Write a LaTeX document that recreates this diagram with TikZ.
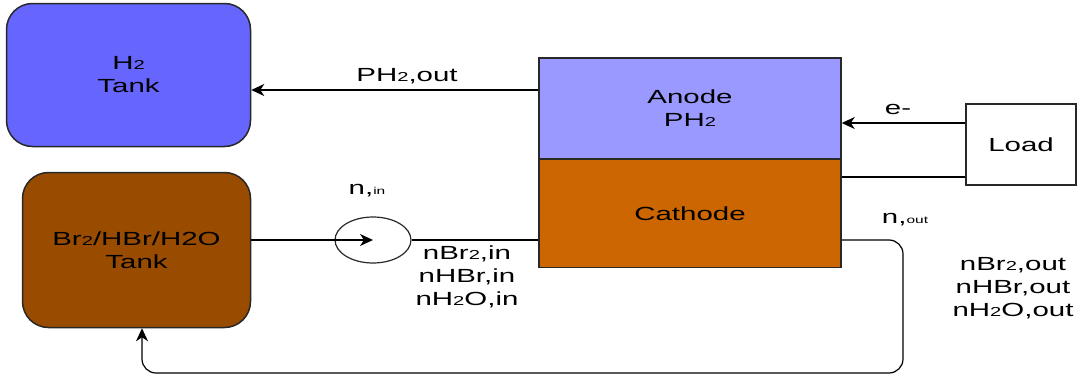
\documentclass[tikz,border=0pt]{standalone}
\usepackage{fontspec}
\setmainfont[FakeStretch=1.55]{Liberation Sans}
\usetikzlibrary{shapes.geometric,arrows.meta}
\newcommand{\sbs}[1]{{\fontsize{13}{13}\selectfont #1}}
\newcommand{\tny}[1]{{\fontsize{10}{10}\selectfont #1}}
\definecolor{htank}{RGB}{102,102,255}
\definecolor{anodec}{RGB}{153,153,255}
\definecolor{cathc}{RGB}{204,102,0}
\definecolor{brtank}{RGB}{153,76,0}
\definecolor{edgec}{RGB}{40,40,40}
\tikzset{
  tank/.style={draw=edgec, line width=1.5pt, rounded corners=26pt, align=center, inner sep=0pt},
  cell/.style={draw=edgec, line width=1.5pt, align=center, inner sep=0pt},
  lbl/.style={align=center, inner sep=0pt},
  arr/.style={-{Stealth[length=13pt,width=12pt,inset=4pt]}, line width=1.2pt},
  wire/.style={line width=1.2pt},
}
\begin{document}
\begin{tikzpicture}[x=1pt,y=-1pt,font=\fontsize{19}{23}\selectfont]
\useasboundingbox (0,0) rectangle (1081,380);
% tanks
\node[tank, fill=htank, minimum width=244pt, minimum height=143pt] (h2) at (128.5,75) {H\sbs{2}\\Tank};
\node[tank, fill=brtank, minimum width=228pt, minimum height=155pt] (br) at (136.5,250) {Br\sbs{2}/HBr/H2O\\Tank};
% cell
\node[cell, fill=anodec, minimum width=302pt, minimum height=101pt] (anode) at (690,108.5) {Anode\\PH\sbs{2}};
\node[cell, fill=cathc, minimum width=302pt, minimum height=108pt] (cathode) at (690,213.5) {Cathode};
% load
\node[cell, fill=white, minimum width=110pt, minimum height=81pt] (load) at (1021,144.5) {Load};
% pump
\node[ellipse, draw=edgec, line width=1.2pt, minimum width=76pt, minimum height=46pt, inner sep=0pt] (pump) at (373,240) {};
% connectors
\draw[arr] (anode.west |- 0,90) -- (h2.east |- 0,90);
\draw[arr] (load.west |- 0,123) -- (anode.east |- 0,123);
\draw[wire] (cathode.east |- 0,177) -- (load.west |- 0,177);
\draw[arr] (br.east |- 0,240) -- (pump.center);
\draw[wire] (pump.east) -- (cathode.west |- 0,240);
\draw[arr, rounded corners=14pt] (cathode.east |- 0,240) -- (903,240) -- (903,373) -- (142,373) -- (br.south -| 142,0);
% labels
\node[lbl] (lph) at (407,76) {PH\sbs{2},out};
\node[lbl] (le) at (898,109) {e-};
\node[lbl] (lnin) at (367,191) {n,\tny{in}};
\node[lbl] (lin) at (467,277) {nBr\sbs{2},in\\nHBr,in\\nH\sbs{2}O,in};
\node[lbl] (lnout) at (905,220) {n,\tny{out}};
\node[lbl] (lout) at (1013,288) {nBr\sbs{2},out\\nHBr,out\\nH\sbs{2}O,out};
\end{tikzpicture}
\end{document}
